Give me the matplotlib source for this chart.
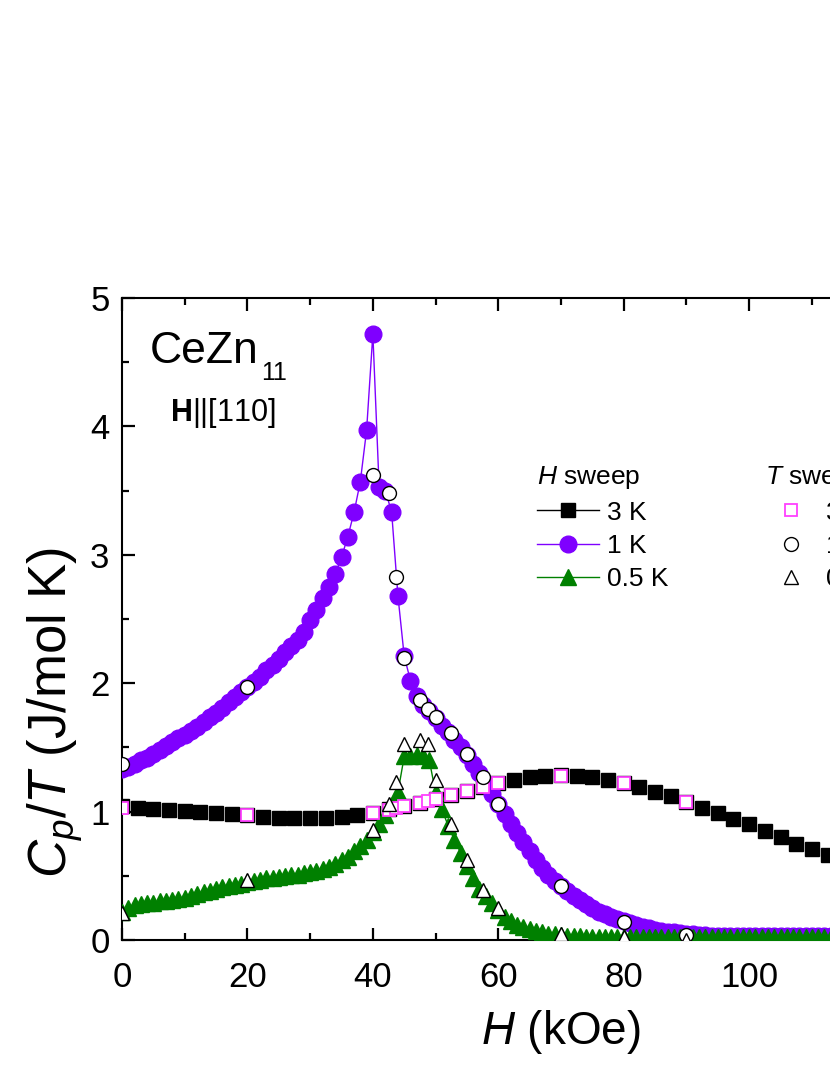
import numpy as np
import matplotlib
matplotlib.use("Agg")
from matplotlib import pyplot as plt
from matplotlib.lines import Line2D
from matplotlib.ticker import MultipleLocator

plt.rcParams["font.family"] = ["Liberation Sans", "DejaVu Sans"]
plt.rcParams["mathtext.fontset"] = "custom"
plt.rcParams["mathtext.rm"] = "Liberation Sans"
plt.rcParams["mathtext.it"] = "Liberation Sans:italic"
plt.rcParams["mathtext.bf"] = "Liberation Sans:bold"

# H sweep, 3 K (black squares), field in kOe
H_3K = [0, 2.5, 5, 7.5, 10, 12.5, 15, 17.5, 20, 22.5, 25, 27.5, 30, 32.5, 35, 37.5,
        40, 42.5, 45, 47.5, 50, 52.5, 55, 57.5, 60, 62.5, 65, 67.5, 70, 72.5, 75, 77.5,
        80, 82.5, 85, 87.5, 90, 92.5, 95, 97.5, 100, 102.5, 105, 107.5, 110, 112.5, 115]
C_3K = [1.04, 1.03, 1.02, 1.01, 1.005, 0.995, 0.99, 0.98, 0.97, 0.96, 0.95, 0.947, 0.947, 0.95, 0.96, 0.975,
        0.99, 1.02, 1.04, 1.07, 1.10, 1.13, 1.16, 1.19, 1.22, 1.25, 1.27, 1.28, 1.285, 1.28, 1.27, 1.25,
        1.22, 1.19, 1.155, 1.12, 1.075, 1.03, 0.99, 0.94, 0.90, 0.85, 0.80, 0.75, 0.71, 0.66, 0.62]

# H sweep, 1 K (purple circles), one point per kOe from 0
C_1K = [1.33, 1.35, 1.37, 1.40, 1.42, 1.45, 1.48, 1.51, 1.54, 1.57,
        1.60, 1.63, 1.66, 1.70, 1.74, 1.77, 1.81, 1.85, 1.89, 1.93,
        1.97, 2.01, 2.05, 2.10, 2.14, 2.19, 2.24, 2.29, 2.34, 2.40,
        2.49, 2.57, 2.66, 2.75, 2.85, 2.98, 3.14, 3.33, 3.57, 3.97,
        4.72, 3.53, 3.50, 3.33, 2.68, 2.21, 2.02, 1.90, 1.83, 1.78,
        1.73, 1.67, 1.62, 1.56, 1.50, 1.44, 1.37, 1.30, 1.22, 1.14,
        1.06, 0.98, 0.90, 0.83, 0.76, 0.69, 0.62, 0.56, 0.51, 0.46,
        0.42, 0.38, 0.34, 0.31, 0.28, 0.25, 0.22, 0.20, 0.18, 0.16,
        0.145, 0.13, 0.115, 0.10, 0.09, 0.08, 0.07, 0.065, 0.06, 0.055,
        0.05, 0.045, 0.04, 0.04, 0.035, 0.035, 0.035, 0.03, 0.03, 0.03,
        0.03, 0.03, 0.03, 0.03, 0.03, 0.03, 0.03, 0.03, 0.03, 0.03,
        0.03, 0.03, 0.03, 0.03, 0.03, 0.03]
H_1K = np.arange(len(C_1K))

# H sweep, 0.5 K (green triangles), one point per kOe from 0
C_05K = [0.22, 0.25, 0.27, 0.28, 0.29, 0.29, 0.30, 0.30, 0.31, 0.32,
         0.33, 0.34, 0.36, 0.37, 0.38, 0.40, 0.41, 0.42, 0.43, 0.44,
         0.45, 0.46, 0.47, 0.48, 0.48, 0.49, 0.50, 0.51, 0.51, 0.52,
         0.53, 0.54, 0.55, 0.57, 0.59, 0.62, 0.65, 0.69, 0.73, 0.78,
         0.84, 0.90, 0.97, 1.05, 1.15, 1.43, 1.43, 1.44, 1.43, 1.40,
         1.15, 1.02, 0.89, 0.78, 0.68, 0.58, 0.48, 0.40, 0.34, 0.29,
         0.23, 0.18, 0.15, 0.12, 0.10, 0.085, 0.07, 0.06, 0.05, 0.045,
         0.04, 0.035, 0.03, 0.03, 0.025, 0.025, 0.025, 0.02, 0.02, 0.02,
         0.02, 0.02, 0.02, 0.02, 0.02, 0.02, 0.02, 0.02, 0.02, 0.02,
         0.02, 0.02, 0.02, 0.02, 0.02, 0.02, 0.02, 0.02, 0.02, 0.02,
         0.02, 0.02, 0.02, 0.02, 0.02, 0.02, 0.02, 0.02, 0.02, 0.02,
         0.02, 0.02, 0.02, 0.02, 0.02, 0.02]
H_05K = np.arange(len(C_05K))

# T sweeps (open symbols)
H_T = [0, 20, 40, 42.5, 43.75, 45, 47.5, 48.75, 50, 52.5, 55, 57.5, 60, 70, 80, 90]
C_T3K = [1.03, 0.97, 0.99, 1.01, 1.03, 1.04, 1.07, 1.08, 1.10, 1.13, 1.16, 1.19, 1.22, 1.28, 1.22, 1.075]
C_T1K = [1.37, 1.97, 3.62, 3.48, 2.83, 2.20, 1.87, 1.80, 1.74, 1.61, 1.45, 1.27, 1.06, 0.42, 0.14, 0.04]
C_T05K = [0.21, 0.47, 0.86, 1.06, 1.23, 1.53, 1.56, 1.53, 1.25, 0.90, 0.62, 0.39, 0.25, 0.045, 0.02, 0.0]

purple = "#7F00FF"
green = "#008000"
pink = "#FF40FF"

fig = plt.figure(figsize=(8.3, 10.75), dpi=100)
# axis runs to 140 kOe, right part falls outside the picture
ax = fig.add_axes([122 / 830, 135 / 1075, 878 / 830, 642 / 1075])

ax.plot(H_3K, C_3K, "s", color="black", ms=10, lw=1, zorder=2)
ax.plot(H_1K, C_1K, "-o", color=purple, ms=12, lw=1, zorder=3)
ax.plot(H_05K, C_05K, "-^", color=green, ms=11, lw=1, zorder=4)
ax.plot(H_T, C_T3K, "s", mfc="white", mec=pink, mew=1.3, ms=9, ls="none", zorder=5)
ax.plot(H_T, C_T1K, "o", mfc="white", mec="black", mew=1.0, ms=10, ls="none", zorder=6)
ax.plot(H_T, C_T05K, "^", mfc="white", mec="black", mew=1.0, ms=10, ls="none", zorder=7)

ax.set_xlim(0, 140)
ax.set_ylim(0, 5)
ax.xaxis.set_major_locator(MultipleLocator(20))
ax.xaxis.set_minor_locator(MultipleLocator(10))
ax.yaxis.set_major_locator(MultipleLocator(1))
ax.yaxis.set_minor_locator(MultipleLocator(0.5))
ax.tick_params(which="both", direction="in", top=True, right=True, width=1.6, labelsize=25)
ax.tick_params(axis="y", pad=9)
ax.tick_params(axis="x", pad=15)
ax.tick_params(which="major", length=9)
ax.tick_params(which="minor", length=5)
for s in ax.spines.values():
    s.set_linewidth(1.5)

ax.set_xlabel(r"$H$ (kOe)", fontsize=33)
ax.set_ylabel(r"$C_p/T$ (J/mol K)", fontsize=38)
ax.xaxis.set_label_coords(0.5, -0.106)
ax.yaxis.set_label_coords(-0.042, 0.355)

fig.text(150 / 830, 1 - 363 / 1075, "CeZn", fontsize=32, va="baseline")
fig.text(261 / 830, 1 - 380 / 1075, "11", fontsize=18, va="baseline")
fig.text(170 / 830, 1 - 413 / 1075, r"$\mathbf{H}$||[110]", fontsize=22, va="center")

h_handles = [Line2D([], [], color="black", marker="s", ms=10, lw=1),
             Line2D([], [], color=purple, marker="o", ms=12, lw=1),
             Line2D([], [], color=green, marker="^", ms=11, lw=1)]
t_handles = [Line2D([], [], ls="none", marker="s", mfc="white", mec=pink, mew=1.3, ms=9),
             Line2D([], [], ls="none", marker="o", mfc="white", mec="black", ms=10),
             Line2D([], [], ls="none", marker="^", mfc="white", mec="black", ms=10)]
labels = ["3 K", "1 K", "0.5 K"]

leg1 = ax.legend(h_handles, labels, title=r"$H$ sweep", loc="upper left",
                 bbox_to_anchor=(537 / 830, 1 - 464 / 1075), bbox_transform=fig.transFigure,
                 frameon=False, fontsize=19, title_fontsize=19, handlelength=2.35,
                 handletextpad=0.3, labelspacing=0.36, borderpad=0, borderaxespad=0,
                 alignment="left", numpoints=1)
ax.add_artist(leg1)
ax.legend(t_handles, labels, title=r"$T$ sweep", loc="upper left",
          bbox_to_anchor=(765 / 830, 1 - 464 / 1075), bbox_transform=fig.transFigure,
          frameon=False, fontsize=19, title_fontsize=19, handlelength=2.0,
          handletextpad=0.3, labelspacing=0.36, borderpad=0, borderaxespad=0,
          alignment="left", numpoints=1)

fig.savefig("out.png", dpi=100)
